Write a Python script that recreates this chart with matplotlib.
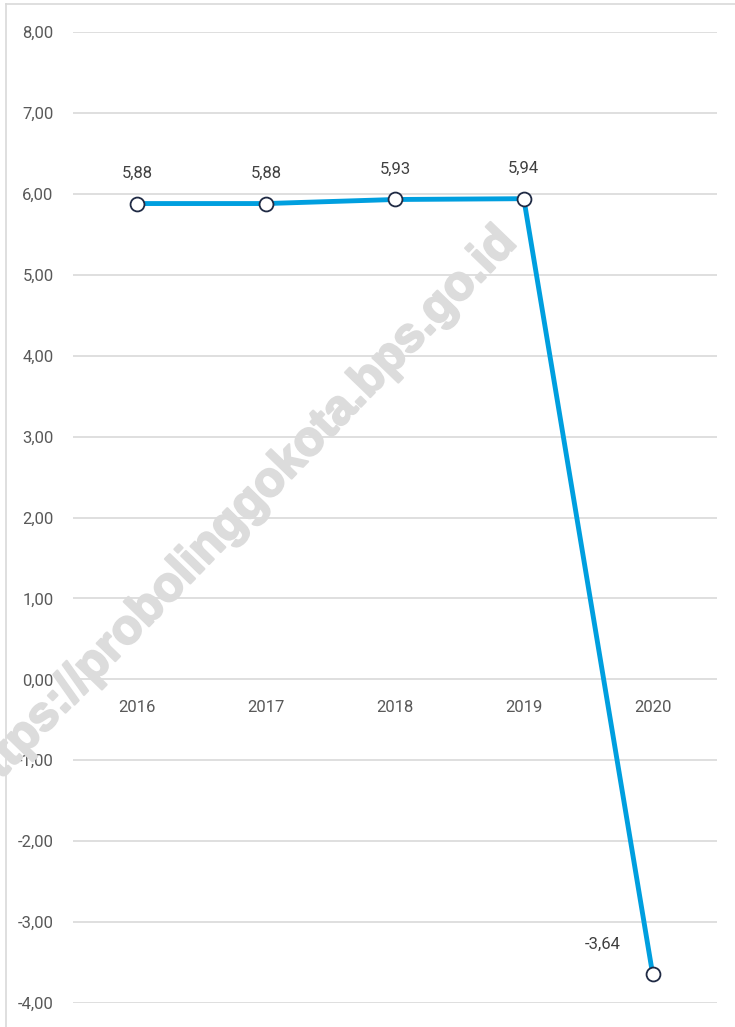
import matplotlib
matplotlib.use("Agg")
import matplotlib.pyplot as plt
import matplotlib.patheffects as pe
from matplotlib.lines import Line2D
from matplotlib.ticker import MultipleLocator, FuncFormatter

years = ["2016", "2017", "2018", "2019", "2020"]
values = [5.88, 5.88, 5.93, 5.94, -3.64]
labels = ["5,88", "5,88", "5,93", "5,94", "-3,64"]

plt.rcParams['font.family'] = ['Liberation Sans Narrow', 'Roboto', 'DejaVu Sans']

W, H = 735, 1027
fig = plt.figure(figsize=(W / 100, H / 100), dpi=100)
ax = fig.add_axes([73 / W, (H - 1003) / H, (717 - 73) / W, (1003 - 32) / H])

x = list(range(len(years)))
ax.plot(x, values, color="#009FDF", lw=3.5, zorder=4, solid_capstyle='round')
ax.plot(x, values, 'o', ms=10, mfc="white", mec="#1F2A44", mew=1.3, zorder=5)

ax.set_xlim(-0.5, len(years) - 0.5)
ax.set_ylim(-4, 8)
ax.yaxis.set_major_locator(MultipleLocator(1))
ax.yaxis.set_major_formatter(FuncFormatter(lambda v, p: f"{v:.2f}".replace(".", ",")))
ax.grid(axis='y', color="#D9D9D9", lw=1.2, zorder=0)
ax.set_axisbelow(True)
for s in ax.spines.values():
    s.set_visible(False)
ax.spines['bottom'].set_position(('data', 0))
ax.set_xticks(x)
ax.set_xticklabels(years)
ax.tick_params(axis='x', length=0, pad=15, labelsize=12, labelcolor="#595959")
ax.tick_params(axis='y', length=0, pad=14, labelsize=12, labelcolor="#595959")

for i, (v, t) in enumerate(zip(values, labels)):
    if v < 0:
        off = (-36, 21)
    else:
        off = (0, 22)
    ax.annotate(t, (i, v), xytext=off, textcoords='offset points', ha='center', va='center',
                fontsize=12, color="#404040", zorder=6)

# watermark
fig.text(240 / W, 1 - 514 / H, "https://probolinggokota.bps.go.id", fontsize=35,
         fontweight='bold', family=['Liberation Sans', 'DejaVu Sans'], color="#DCDCDC",
         rotation=46, rotation_mode='anchor', ha='center', va='center', zorder=3,
         path_effects=[pe.withStroke(linewidth=1.6, foreground="#DCDCDC")])

# border (left and top visible)
fig.add_artist(Line2D([6 / W, 6 / W], [0, 1 - 4 / H], transform=fig.transFigure, color="#D9D9D9", lw=1.2))
fig.add_artist(Line2D([6 / W, 1], [1 - 4 / H, 1 - 4 / H], transform=fig.transFigure, color="#D9D9D9", lw=1.2))

fig.savefig("out.png", dpi=100)
